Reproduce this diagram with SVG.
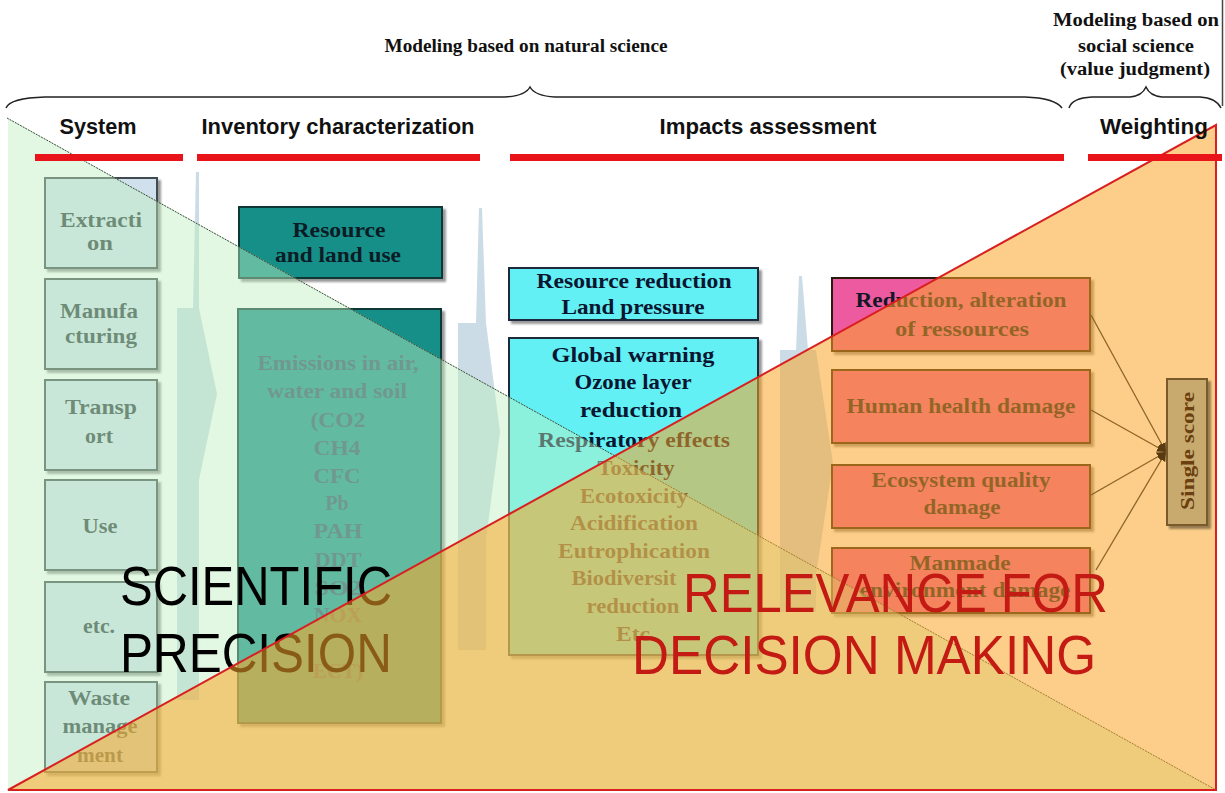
<svg xmlns="http://www.w3.org/2000/svg" width="1225" height="793" viewBox="0 0 1225 793">
<defs>
<style>
.t{font-family:"Liberation Serif","Times New Roman",serif;font-weight:bold;text-anchor:middle}
.sys{font-size:20px;fill:#2d3a3f}
.emi{font-size:21px;fill:#30506a}
.res{font-size:21px;fill:#0c1c26}
.cy{font-size:21px;fill:#0a1530}
.dm{font-size:20px;fill:#141826}
.hd{font-family:"Liberation Sans",Arial,sans-serif;font-weight:bold;font-size:22px;fill:#111;text-anchor:middle}
.top{font-size:18px;fill:#111}
.big{font-family:"Liberation Sans",Arial,sans-serif;font-size:56px}
.sb{fill:#d0e1ed;stroke:#3f4c51;stroke-width:2}
.tb{fill:#168f88;stroke:#0a3836;stroke-width:2}
.cb{fill:#62f0f5;stroke:#1a2a3a;stroke-width:2}
.db{fill:#ee5aa0;stroke:#2a1a10;stroke-width:2}
.arr{fill:#c2d6e2;fill-opacity:.85}
.bar{stroke:#e8141a;stroke-width:7}
.cn{stroke:#8c6428;stroke-width:1.3;fill:none}
</style>
<filter id="sh" x="-10%" y="-10%" width="130%" height="130%"><feDropShadow dx="3" dy="3" stdDeviation="1.2" flood-color="#000" flood-opacity=".4"/></filter>
<marker id="ah" viewBox="0 0 10 10" refX="10" refY="5" markerWidth="9" markerHeight="9" orient="auto" markerUnits="userSpaceOnUse"><path d="M0,0 L10,5 L0,10 z" fill="#5a3a10"/></marker>
</defs>
<rect x="0" y="0" width="1225" height="793" fill="#ffffff"/>

<g id="flow-arrows">
<polygon class="arr" points="196,172 199,172 199,308 217,394 199,480 199,700 177,700 177,308 193,308"/>
<polygon class="arr" points="479,208 482,208 486,323 500,432 486,540 486,650 458,650 458,323 476,323"/>
<polygon class="arr" points="799,276 802,276 808,350 816,350 833,463 816,575 816,612 780,612 780,350 796,350"/>
</g>

<g id="system">
<g id="n-extraction"><rect class="sb" x="45" y="178" width="112" height="90" filter="url(#sh)"/>
<text class="t sys" x="101" y="227" textLength="82" lengthAdjust="spacingAndGlyphs">Extracti</text>
<text class="t sys" x="100" y="250" textLength="26" lengthAdjust="spacingAndGlyphs">on</text></g>
<g id="n-manufacturing"><rect class="sb" x="45" y="279" width="112" height="90" filter="url(#sh)"/>
<text class="t sys" x="99" y="318" textLength="78" lengthAdjust="spacingAndGlyphs">Manufa</text>
<text class="t sys" x="101" y="343" textLength="72" lengthAdjust="spacingAndGlyphs">cturing</text></g>
<g id="n-transport"><rect class="sb" x="45" y="380" width="112" height="90" filter="url(#sh)"/>
<text class="t sys" x="101" y="414" textLength="72" lengthAdjust="spacingAndGlyphs">Transp</text>
<text class="t sys" x="99" y="443" textLength="28" lengthAdjust="spacingAndGlyphs">ort</text></g>
<g id="n-use"><rect class="sb" x="45" y="480" width="112" height="90" filter="url(#sh)"/>
<text class="t sys" x="100" y="533" textLength="35" lengthAdjust="spacingAndGlyphs">Use</text></g>
<g id="n-etc"><rect class="sb" x="45" y="582" width="112" height="90" filter="url(#sh)"/>
<text class="t sys" x="99" y="633" textLength="32" lengthAdjust="spacingAndGlyphs">etc.</text></g>
<g id="n-waste"><rect class="sb" x="45" y="682" width="112" height="90" filter="url(#sh)"/>
<text class="t sys" x="99" y="705" textLength="62" lengthAdjust="spacingAndGlyphs">Waste</text>
<text class="t sys" x="100" y="733" textLength="75" lengthAdjust="spacingAndGlyphs">manage</text>
<text class="t sys" x="100" y="762" textLength="46" lengthAdjust="spacingAndGlyphs">ment</text></g>
</g>

<g id="inventory">
<g id="n-resource-land"><rect class="tb" x="239" y="207" width="203" height="71" filter="url(#sh)"/>
<text class="t res" x="339" y="237" textLength="93" lengthAdjust="spacingAndGlyphs">Resource</text>
<text class="t res" x="338" y="262" textLength="126" lengthAdjust="spacingAndGlyphs">and land use</text></g>
<g id="n-emissions"><rect class="tb" x="238" y="309" width="203" height="414" filter="url(#sh)"/>
<text class="t emi" x="338" y="370" textLength="161" lengthAdjust="spacingAndGlyphs">Emissions in air,</text>
<text class="t emi" x="337" y="398" textLength="140" lengthAdjust="spacingAndGlyphs">water and soil</text>
<text class="t emi" x="338" y="427" textLength="55" lengthAdjust="spacingAndGlyphs">(CO2</text>
<text class="t emi" x="337" y="455" textLength="47" lengthAdjust="spacingAndGlyphs">CH4</text>
<text class="t emi" x="337" y="483" textLength="47" lengthAdjust="spacingAndGlyphs">CFC</text>
<text class="t emi" x="337" y="510" textLength="23" lengthAdjust="spacingAndGlyphs">Pb</text>
<text class="t emi" x="338" y="538" textLength="49" lengthAdjust="spacingAndGlyphs">PAH</text>
<text class="t emi" x="338" y="567" textLength="47" lengthAdjust="spacingAndGlyphs">DDT</text>
<text class="t emi" x="338" y="595" textLength="47" lengthAdjust="spacingAndGlyphs">SO2</text>
<text class="t emi" x="338" y="622" textLength="48" lengthAdjust="spacingAndGlyphs">NOX</text>
<text class="t emi" x="338" y="678" textLength="50" lengthAdjust="spacingAndGlyphs">ECT)</text></g>
</g>

<g id="impacts">
<g id="n-resource-reduction"><rect class="cb" x="509" y="268" width="249" height="52" filter="url(#sh)"/>
<text class="t cy" x="634" y="288" textLength="195" lengthAdjust="spacingAndGlyphs">Resource reduction</text>
<text class="t cy" x="633" y="314" textLength="143" lengthAdjust="spacingAndGlyphs">Land pressure</text></g>
<g id="n-midpoints"><rect class="cb" x="509" y="338" width="249" height="317" filter="url(#sh)"/>
<text class="t cy" x="633" y="362" textLength="163" lengthAdjust="spacingAndGlyphs">Global warning</text>
<text class="t cy" x="633" y="389" textLength="117" lengthAdjust="spacingAndGlyphs">Ozone layer</text>
<text class="t cy" x="631" y="417" textLength="102" lengthAdjust="spacingAndGlyphs">reduction</text>
<text class="t cy" x="634" y="447" textLength="192" lengthAdjust="spacingAndGlyphs">Respiratory effects</text>
<text class="t cy" x="636" y="475" textLength="77" lengthAdjust="spacingAndGlyphs">Toxicity</text>
<text class="t cy" x="634" y="503" textLength="108" lengthAdjust="spacingAndGlyphs">Ecotoxicity</text>
<text class="t cy" x="634" y="530" textLength="128" lengthAdjust="spacingAndGlyphs">Acidification</text>
<text class="t cy" x="634" y="558" textLength="152" lengthAdjust="spacingAndGlyphs">Eutrophication</text>
<text class="t cy" x="624" y="585" textLength="105" lengthAdjust="spacingAndGlyphs">Biodiversit</text>
<text class="t cy" x="633" y="613" textLength="93" lengthAdjust="spacingAndGlyphs">reduction</text>
<text class="t cy" x="636" y="641" textLength="40" lengthAdjust="spacingAndGlyphs">Etc.</text></g>
</g>

<g id="damage">
<g id="n-resources-damage"><rect class="db" x="832" y="278" width="258" height="73" filter="url(#sh)"/>
<text class="t dm" x="961" y="307" textLength="211" lengthAdjust="spacingAndGlyphs">Reduction, alteration</text>
<text class="t dm" x="962" y="336" textLength="134" lengthAdjust="spacingAndGlyphs">of ressources</text></g>
<g id="n-human-health"><rect class="db" x="832" y="370" width="258" height="73" filter="url(#sh)"/>
<text class="t dm" x="961" y="413" textLength="229" lengthAdjust="spacingAndGlyphs">Human health damage</text></g>
<g id="n-ecosystem"><rect class="db" x="832" y="465" width="258" height="63" filter="url(#sh)"/>
<text class="t dm" x="961" y="487" textLength="179" lengthAdjust="spacingAndGlyphs">Ecosystem quality</text>
<text class="t dm" x="962" y="514" textLength="77" lengthAdjust="spacingAndGlyphs">damage</text></g>
<g id="n-manmade"><rect class="db" x="832" y="548" width="258" height="65" filter="url(#sh)"/>
<text class="t dm" x="960" y="570" textLength="101" lengthAdjust="spacingAndGlyphs">Manmade</text>
<text class="t dm" x="965" y="597" textLength="211" lengthAdjust="spacingAndGlyphs">environment damage</text></g>
</g>

<g id="zone-precision">
<polygon points="8,118 1216,790 8,790" fill="#bef0be" fill-opacity=".45"/>
<line x1="7" y1="118" x2="1216" y2="790" stroke="#3a4a3a" stroke-width="1" stroke-dasharray="2 1"/>
<text class="big" x="120" y="605" fill="#000" textLength="272" lengthAdjust="spacingAndGlyphs">SCIENTIFIC</text>
<text class="big" x="120" y="672" fill="#000" textLength="272" lengthAdjust="spacingAndGlyphs">PRECISION</text>
</g>

<g id="zone-relevance">
<polygon points="8,790 1216,125 1216,790" fill="#faa528" fill-opacity=".55" stroke="#d82020" stroke-width="2"/>
<text class="big" x="683" y="612" fill="#c41a14" textLength="425" lengthAdjust="spacingAndGlyphs">RELEVANCE FOR</text>
<text class="big" x="632" y="674" fill="#c41a14" textLength="464" lengthAdjust="spacingAndGlyphs">DECISION MAKING</text>
</g>

<g id="connectors">
<line class="cn" x1="1091" y1="315" x2="1166" y2="452" marker-end="url(#ah)"/>
<line class="cn" x1="1091" y1="410" x2="1166" y2="452" marker-end="url(#ah)"/>
<line class="cn" x1="1091" y1="495" x2="1166" y2="452" marker-end="url(#ah)"/>
<line class="cn" x1="1096" y1="570" x2="1166" y2="452" marker-end="url(#ah)"/>
</g>

<g id="n-single-score">
<rect x="1167" y="379" width="40" height="146" fill="#c8aa6e" stroke="#7a5a2a" stroke-width="2" filter="url(#sh)"/>
<text class="t" font-size="19" fill="#6a4010" transform="translate(1194,451) rotate(-90)" x="0" y="0" textLength="118" lengthAdjust="spacingAndGlyphs">Single score</text>
</g>

<g id="headers">
<text class="t top" x="526" y="52" textLength="283" lengthAdjust="spacingAndGlyphs">Modeling based on natural science</text>
<text class="t top" x="1136" y="26" font-size="16" textLength="166" lengthAdjust="spacingAndGlyphs">Modeling based on</text>
<text class="t top" x="1136" y="52" font-size="16" textLength="116" lengthAdjust="spacingAndGlyphs">social science</text>
<text class="t top" x="1135" y="75" font-size="16" textLength="150" lengthAdjust="spacingAndGlyphs">(value judgment)</text>
<path d="M6,108 Q10,98 45,97 L505,97 Q525,96 530,87 Q535,96 555,97 L1025,97 Q1055,98 1062,108" fill="none" stroke="#222" stroke-width="1.5"/>
<path d="M1069,108 Q1072,98 1092,97 L1130,97 Q1142,96 1146,87 Q1150,96 1162,97 L1200,97 Q1216,98 1221,108" fill="none" stroke="#222" stroke-width="1.5"/>
<line x1="1222.5" y1="0" x2="1222.5" y2="106" stroke="#444" stroke-width="1.5"/>
<text class="hd" x="98" y="134" textLength="77" lengthAdjust="spacingAndGlyphs">System</text>
<text class="hd" x="338" y="134" textLength="273" lengthAdjust="spacingAndGlyphs">Inventory characterization</text>
<text class="hd" x="768" y="134" textLength="217" lengthAdjust="spacingAndGlyphs">Impacts assessment</text>
<text class="hd" x="1154" y="134" textLength="108" lengthAdjust="spacingAndGlyphs">Weighting</text>
<line class="bar" x1="35" y1="157.5" x2="183" y2="157.5"/>
<line class="bar" x1="197" y1="157.5" x2="480" y2="157.5"/>
<line class="bar" x1="510" y1="157.5" x2="1064" y2="157.5"/>
<line class="bar" x1="1088" y1="157.5" x2="1222" y2="157.5"/>
</g>
</svg>
